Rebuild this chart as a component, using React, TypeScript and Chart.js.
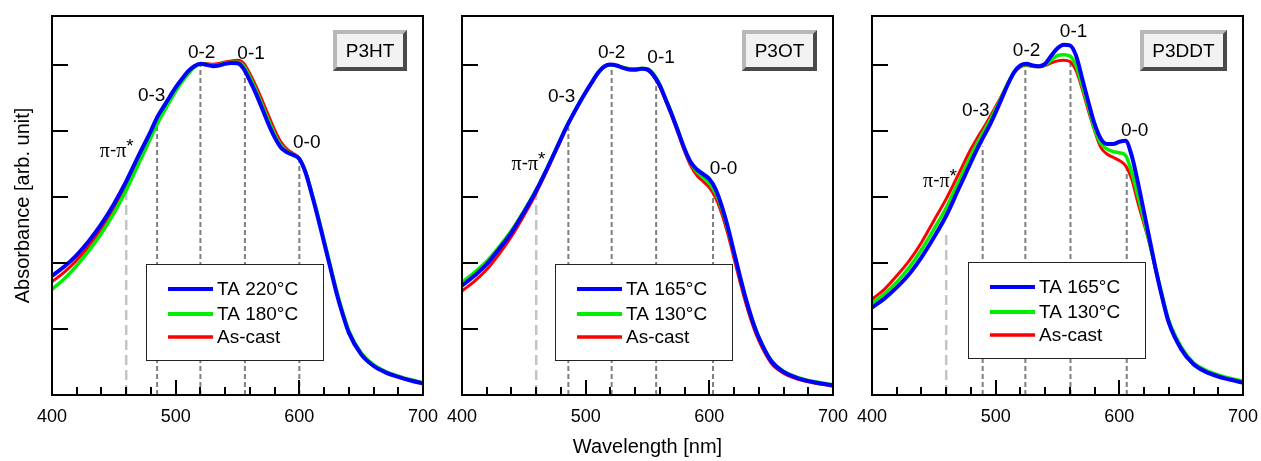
import React, { useEffect, useRef } from "react";
import { Chart, registerables } from "chart.js";

Chart.register(...registerables);

// ---------------- DATA ----------------
const WL = [
  400, 410, 420, 430, 440, 450, 460, 470, 480,
  485, 490, 495, 500, 505, 510, 515, 520, 525, 530,
  535, 540, 545, 550, 555, 560, 565, 570, 575, 580,
  585, 590, 595, 600, 605, 610, 615, 620, 625, 630,
  635, 640,
  650, 660, 670, 680, 690, 700,
];

// P3HT
const P3HT_TA220 = [
  0.361, 0.389, 0.424, 0.467, 0.518, 0.578, 0.647, 0.725, 0.8,
  0.841, 0.872, 0.902, 0.932, 0.957, 0.98, 0.996, 1.003, 1.0, 0.996,
  0.998, 1.003, 1.006, 1.005, 0.988, 0.952, 0.912, 0.867, 0.821, 0.781,
  0.75, 0.735, 0.727, 0.715, 0.674, 0.609, 0.538, 0.462, 0.386, 0.31,
  0.245, 0.189,
  0.123, 0.088, 0.068, 0.055, 0.044, 0.035,
];
const P3HT_TA180 = [
  0.32, 0.352, 0.392, 0.438, 0.49, 0.55, 0.62, 0.7, 0.78,
  0.82, 0.855, 0.888, 0.92, 0.948, 0.972, 0.992, 1.002, 1.002, 0.998,
  1.0, 1.005, 1.008, 1.008, 0.996, 0.962, 0.922, 0.878, 0.832, 0.79,
  0.757, 0.738, 0.728, 0.714, 0.676, 0.614, 0.544, 0.469, 0.393, 0.318,
  0.252, 0.195,
  0.128, 0.092, 0.071, 0.057, 0.046, 0.037,
];
const P3HT_ASCAST = [
  0.343, 0.372, 0.408, 0.452, 0.504, 0.564, 0.634, 0.713, 0.79,
  0.83, 0.863, 0.895, 0.926, 0.952, 0.976, 0.994, 1.003, 1.004, 1.002,
  1.004, 1.009, 1.012, 1.014, 1.005, 0.973, 0.935, 0.892, 0.847, 0.803,
  0.767, 0.745, 0.732, 0.717, 0.677, 0.612, 0.541, 0.465, 0.389, 0.313,
  0.248, 0.191,
  0.124, 0.089, 0.069, 0.056, 0.045, 0.036,
];

// P3OT
const P3OT_TA165 = [
  0.331, 0.361, 0.396, 0.442, 0.492, 0.553, 0.619, 0.695, 0.776,
  0.816, 0.851, 0.885, 0.917, 0.947, 0.976, 0.995, 1.001, 0.998, 0.991,
  0.986, 0.985, 0.988, 0.986, 0.968, 0.937, 0.892, 0.846, 0.796, 0.745,
  0.705, 0.683, 0.669, 0.654, 0.624, 0.573, 0.508, 0.432, 0.356, 0.285,
  0.224, 0.174,
  0.103, 0.07, 0.053, 0.042, 0.035, 0.029,
];
const P3OT_TA130 = [
  0.341, 0.371, 0.405, 0.449, 0.498, 0.557, 0.622, 0.697, 0.777,
  0.816, 0.851, 0.885, 0.917, 0.947, 0.975, 0.994, 1.0, 0.998, 0.992,
  0.988, 0.987, 0.99, 0.988, 0.972, 0.94, 0.895, 0.848, 0.797, 0.745,
  0.703, 0.676, 0.66, 0.642, 0.612, 0.565, 0.502, 0.428, 0.354, 0.285,
  0.225, 0.176,
  0.105, 0.072, 0.055, 0.044, 0.037, 0.031,
];
const P3OT_ASCAST = [
  0.315, 0.344, 0.38, 0.427, 0.48, 0.543, 0.612, 0.69, 0.772,
  0.813, 0.849, 0.883, 0.915, 0.945, 0.974, 0.994, 1.0, 0.998, 0.993,
  0.989, 0.988, 0.989, 0.984, 0.965, 0.933, 0.888, 0.841, 0.79, 0.738,
  0.694, 0.665, 0.647, 0.628, 0.598, 0.55, 0.487, 0.413, 0.34, 0.272,
  0.213, 0.165,
  0.097, 0.066, 0.05, 0.04, 0.033, 0.027,
];

// P3DDT
const P3DDT_TA165 = [
  0.265, 0.292, 0.326, 0.366, 0.417, 0.477, 0.543, 0.624, 0.705,
  0.745, 0.781, 0.816, 0.856, 0.899, 0.942, 0.978, 0.998, 1.003, 0.998,
  0.996, 1.003, 1.028, 1.05, 1.061, 1.059, 1.028, 0.958, 0.887, 0.821,
  0.776, 0.76, 0.76, 0.767, 0.77, 0.725, 0.644, 0.553, 0.462, 0.371,
  0.29, 0.219,
  0.139, 0.093, 0.07, 0.056, 0.046, 0.037,
];
const P3DDT_TA130 = [
  0.278, 0.306, 0.342, 0.386, 0.44, 0.502, 0.567, 0.646, 0.725,
  0.762, 0.796, 0.83, 0.866, 0.905, 0.945, 0.978, 0.996, 1.0, 0.996,
  0.995, 1.0, 1.015, 1.028, 1.031, 1.027, 0.998, 0.937, 0.872, 0.806,
  0.762, 0.745, 0.737, 0.734, 0.726, 0.675, 0.603, 0.53, 0.452, 0.372,
  0.296, 0.226,
  0.146, 0.098, 0.075, 0.061, 0.05, 0.042,
];
const P3DDT_ASCAST = [
  0.29, 0.32, 0.361, 0.406, 0.462, 0.528, 0.594, 0.669, 0.745,
  0.778, 0.808, 0.84, 0.873, 0.908, 0.945, 0.977, 0.994, 0.998, 0.995,
  0.994, 0.998, 1.006, 1.012, 1.014, 1.01, 0.983, 0.927, 0.861, 0.801,
  0.75, 0.73, 0.72, 0.71, 0.695, 0.654, 0.583, 0.518, 0.45, 0.368,
  0.29, 0.22,
  0.14, 0.094, 0.071, 0.057, 0.046, 0.038,
];

// Peak markers
const PEAK_LABELS = ["π-π*", "0-3", "0-2", "0-1", "0-0"];

const P3HT_PEAK_WL = [460, 485, 520, 556, 600];
const P3HT_PEAK_TOP = [0.639, 0.84, 1.0, 0.988, 0.71];
const P3HT_LABEL_X = [452.4, 480.6, 521, 561, 606];
const P3HT_LABEL_Y = [0.74, 0.907, 1.038, 1.033, 0.765];

const P3OT_PEAK_WL = [460, 486, 521, 557, 603];
const P3OT_PEAK_TOP = [0.614, 0.81, 0.998, 0.958, 0.61];
const P3OT_LABEL_X = [453.8, 480.6, 521, 561, 611.5];
const P3OT_LABEL_Y = [0.7, 0.902, 1.038, 1.023, 0.685];

const P3DDT_PEAK_WL = [460, 489.5, 524, 560.5, 606];
const P3DDT_PEAK_TOP = [0.494, 0.753, 0.998, 1.008, 0.7];
const P3DDT_LABEL_X = [455, 483.9, 525, 563, 612.4];
const P3DDT_LABEL_Y = [0.649, 0.861, 1.043, 1.099, 0.8];

const X_MAJOR_TICKS = [400, 500, 600, 700];
const X_MINOR_TICKS = [420, 440, 460, 480, 520, 540, 560, 580, 620, 640, 660, 680];
const Y_TICKS = [0.2, 0.4, 0.6, 0.8, 1.0];

const P3HT_NAMES = ["TA 220°C", "TA 180°C", "As-cast"];
const P3OT_NAMES = ["TA 165°C", "TA 130°C", "As-cast"];
const P3DDT_NAMES = ["TA 165°C", "TA 130°C", "As-cast"];

// ---------------- STYLE ----------------
const SANS = "'Liberation Sans', Arial, Helvetica, sans-serif";
const SERIF = "'Liberation Serif', 'Times New Roman', serif";
const COLORS = ["#0000ff", "#00ee00", "#ff0000"];
const WIDTHS = [4, 3.5, 3];

type PanelCfg = {
  title: string;
  left: number;
  width: number;
  padLeft: number;
  padRight: number;
  yWidth: number;
  showY: boolean;
  showX: boolean;
  names: string[];
  series: number[][];
  peakWl: number[];
  peakTop: number[];
  labelX: number[];
  labelY: number[];
  legendOff: [number, number];
};

const PANELS: PanelCfg[] = [
  {
    title: "P3HT", left: 0, width: 442, padLeft: 0, padRight: 19, yWidth: 52,
    showY: true, showX: false, names: P3HT_NAMES,
    series: [P3HT_TA220, P3HT_TA180, P3HT_ASCAST],
    peakWl: P3HT_PEAK_WL, peakTop: P3HT_PEAK_TOP, labelX: P3HT_LABEL_X, labelY: P3HT_LABEL_Y,
    legendOff: [94, 248],
  },
  {
    title: "P3OT", left: 442, width: 410, padLeft: 20, padRight: 19, yWidth: 0,
    showY: false, showX: true, names: P3OT_NAMES,
    series: [P3OT_TA165, P3OT_TA130, P3OT_ASCAST],
    peakWl: P3OT_PEAK_WL, peakTop: P3OT_PEAK_TOP, labelX: P3OT_LABEL_X, labelY: P3OT_LABEL_Y,
    legendOff: [93, 248],
  },
  {
    title: "P3DDT", left: 852, width: 409, padLeft: 20, padRight: 18, yWidth: 0,
    showY: false, showX: false, names: P3DDT_NAMES,
    series: [P3DDT_TA165, P3DDT_TA130, P3DDT_ASCAST],
    peakWl: P3DDT_PEAK_WL, peakTop: P3DDT_PEAK_TOP, labelX: P3DDT_LABEL_X, labelY: P3DDT_LABEL_Y,
    legendOff: [96, 246],
  },
];

function drawPeakLabel(ctx: CanvasRenderingContext2D, text: string, x: number, y: number) {
  ctx.fillStyle = "#000";
  ctx.textBaseline = "middle";
  if (text.startsWith("π")) {
    const segs = [
      { t: "π", f: `20px ${SERIF}`, dy: 1 },
      { t: "-", f: `19px ${SANS}`, dy: 0 },
      { t: "π", f: `20px ${SERIF}`, dy: 1 },
      { t: "*", f: `19px ${SANS}`, dy: -4 },
    ];
    let w = 0;
    for (const s of segs) {
      ctx.font = s.f;
      w += ctx.measureText(s.t).width;
    }
    let cx = x - w / 2;
    ctx.textAlign = "left";
    for (const s of segs) {
      ctx.font = s.f;
      ctx.fillText(s.t, cx, y + s.dy);
      cx += ctx.measureText(s.t).width;
    }
  } else {
    ctx.font = `19px ${SANS}`;
    ctx.textAlign = "center";
    ctx.fillText(text, x, y);
  }
}

function makePlugin(cfg: PanelCfg) {
  return {
    id: "decor",
    afterDatasetsDraw(chart: any) {
      const ctx: CanvasRenderingContext2D = chart.ctx;
      const ca = chart.chartArea;
      const xs = chart.scales.x;
      const ys = chart.scales.y;
      ctx.save();

      // frame
      ctx.strokeStyle = "#000";
      ctx.lineWidth = 2;
      ctx.strokeRect(ca.left, ca.top, ca.right - ca.left, ca.bottom - ca.top);

      // inward ticks
      ctx.lineWidth = 2;
      ctx.beginPath();
      for (const v of X_MAJOR_TICKS) {
        const px = Math.round(xs.getPixelForValue(v));
        ctx.moveTo(px, ca.bottom);
        ctx.lineTo(px, ca.bottom - 15);
      }
      for (const v of X_MINOR_TICKS) {
        const px = Math.round(xs.getPixelForValue(v));
        ctx.moveTo(px, ca.bottom);
        ctx.lineTo(px, ca.bottom - 8);
      }
      for (const v of Y_TICKS) {
        const py = Math.round(ys.getPixelForValue(v));
        ctx.moveTo(ca.left, py);
        ctx.lineTo(ca.left + 16, py);
      }
      ctx.stroke();

      // peak labels
      for (let i = 0; i < PEAK_LABELS.length; i++) {
        drawPeakLabel(
          ctx,
          PEAK_LABELS[i],
          xs.getPixelForValue(cfg.labelX[i]),
          ys.getPixelForValue(cfg.labelY[i])
        );
      }

      // legend
      const bx = ca.left + cfg.legendOff[0];
      const by = ca.top + cfg.legendOff[1];
      const bw = 177;
      const bh = 96;
      ctx.fillStyle = "#fff";
      ctx.fillRect(bx, by, bw, bh);
      ctx.strokeStyle = "#222";
      ctx.lineWidth = 1;
      ctx.strokeRect(bx + 0.5, by + 0.5, bw, bh);
      const rows = [25, 50, 73];
      chart.data.datasets.forEach((ds: any, i: number) => {
        if (i > 2) return;
        ctx.strokeStyle = ds.borderColor;
        ctx.lineWidth = i === 2 ? 3.5 : 4;
        ctx.beginPath();
        ctx.moveTo(bx + 22, by + rows[i]);
        ctx.lineTo(bx + 67, by + rows[i]);
        ctx.stroke();
        ctx.fillStyle = "#000";
        ctx.font = `19px ${SANS}`;
        ctx.textAlign = "left";
        ctx.textBaseline = "middle";
        ctx.fillText(ds.label, bx + 71, by + rows[i] + 1);
      });

      // title box (bevelled)
      ctx.font = `19px ${SANS}`;
      const tw = ctx.measureText(cfg.title).width;
      const w = Math.round(tw + 25);
      const h = 41;
      const x = ca.right - 16 - w;
      const y = ca.top + 14;
      const b = 4;
      ctx.fillStyle = "#4a4a4a";
      ctx.fillRect(x, y, w, h);
      ctx.fillStyle = "#b8b8b8";
      ctx.beginPath();
      ctx.moveTo(x, y);
      ctx.lineTo(x + w, y);
      ctx.lineTo(x + w - b, y + b);
      ctx.lineTo(x + b, y + h - b);
      ctx.lineTo(x, y + h);
      ctx.closePath();
      ctx.fill();
      ctx.fillStyle = "#f2f2f2";
      ctx.fillRect(x + b, y + b, w - 2 * b, h - 2 * b);
      ctx.fillStyle = "#000";
      ctx.textAlign = "center";
      ctx.textBaseline = "middle";
      ctx.fillText(cfg.title, x + w / 2, y + h / 2 + 1);

      ctx.restore();
    },
  };
}

function Panel({ cfg }: { cfg: PanelCfg }) {
  const ref = useRef<HTMLCanvasElement>(null);
  useEffect(() => {
    if (!ref.current) return;
    const curveSets = cfg.series.map((vals, i) => ({
      label: cfg.names[i],
      data: WL.map((x, k) => ({ x, y: vals[k] })),
      borderColor: COLORS[i],
      borderWidth: WIDTHS[i],
      pointRadius: 0,
      fill: false,
      cubicInterpolationMode: "monotone" as const,
      order: 0,
    }));
    const dashSets = cfg.peakWl.map((wl, i) => ({
      label: "peak-" + PEAK_LABELS[i],
      data: [
        { x: wl, y: 0 },
        { x: wl, y: cfg.peakTop[i] },
      ],
      borderColor: i === 0 ? "#c4c4c4" : "#7f7f7f",
      borderWidth: i === 0 ? 2.5 : 2,
      borderDash: i === 0 ? [10, 5] : [5, 3],
      pointRadius: 0,
      fill: false,
      order: 1,
    }));
    const chart = new Chart(ref.current, {
      type: "line",
      data: { datasets: [...curveSets, ...dashSets] as any },
      options: {
        animation: false,
        responsive: false,
        devicePixelRatio: 1,
        layout: { padding: { left: cfg.padLeft, right: cfg.padRight, top: 16, bottom: 0 } },
        plugins: {
          legend: { display: false },
          tooltip: { enabled: false },
          title: { display: false },
        },
        elements: { point: { radius: 0 } },
        scales: {
          x: {
            type: "linear",
            min: 400,
            max: 700,
            border: { display: false },
            grid: { display: false, drawTicks: true, tickLength: 11 },
            ticks: {
              stepSize: 100,
              padding: 0,
              color: "#000",
              maxRotation: 0,
              autoSkip: false,
              font: { family: SANS, size: 18 },
            },
            title: {
              display: cfg.showX,
              text: "Wavelength [nm]",
              color: "#000",
              font: { family: SANS, size: 20 },
              padding: { top: 0, bottom: 2 },
            },
            afterFit: (s: any) => {
              s.height = 66;
            },
          },
          y: {
            type: "linear",
            display: cfg.showY,
            min: 0,
            max: 1.148,
            border: { display: false },
            grid: { display: false, drawTicks: false },
            ticks: { display: false, stepSize: 0.2 },
            title: {
              display: cfg.showY,
              text: "Absorbance [arb. unit]",
              color: "#000",
              font: { family: SANS, size: 20 },
              padding: { top: 11, bottom: 0 },
            },
            afterFit: (s: any) => {
              s.width = cfg.yWidth;
            },
          },
        },
      } as any,
      plugins: [makePlugin(cfg)],
    });
    return () => chart.destroy();
  }, [cfg]);
  return (
    <canvas
      ref={ref}
      width={cfg.width}
      height={461}
      style={{ position: "absolute", left: cfg.left, top: 0, width: cfg.width, height: 461 }}
    />
  );
}

export default function App() {
  return (
    <div
      style={{
        position: "absolute",
        left: 0,
        top: 0,
        width: 1261,
        height: 461,
        background: "#fff",
        overflow: "hidden",
      }}
    >
      {PANELS.map((p) => (
        <Panel key={p.title} cfg={p} />
      ))}
    </div>
  );
}
